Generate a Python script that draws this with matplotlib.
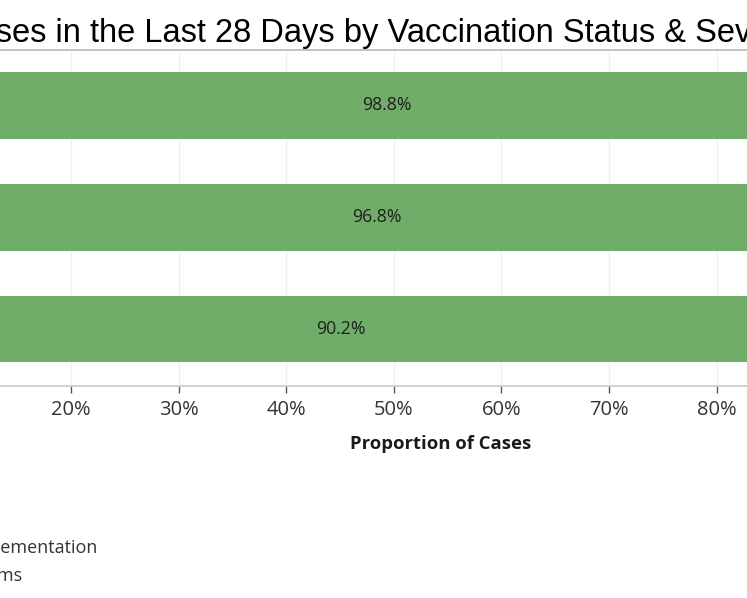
import matplotlib
matplotlib.use("Agg")
import matplotlib.pyplot as plt
from matplotlib.lines import Line2D
from matplotlib.ticker import FuncFormatter

# ---- data ----
groups = ["Group 1", "Group 2", "Group 3"]
share_pct = [98.8, 96.8, 90.2]
tick_values = [0, 10, 20, 30, 40, 50, 60, 70, 80, 90, 100]
title_text = "Proportion of Cases in the Last 28 Days by Vaccination Status & Severity"
title_prefix = "Proportion of Ca"
legend_items = ["Implementation", "Symptoms"]
x_label = "Proportion of Cases"

W, H = 747, 598
fig = plt.figure(figsize=(W / 100, H / 100), dpi=100)
fig.patch.set_facecolor("white")

ui_font = "Open Sans"
green = "#70AD68"

# axes placed in pixel terms (chart is a crop of a wider view)
px_per_pct = 10.76
x0_px = 71 - 20 * px_per_pct
ax_left = x0_px / W
ax_width = 100 * px_per_pct / W
ax_bottom = (H - 386) / H
ax_top = (H - 49.5) / H
ax = fig.add_axes([ax_left, ax_bottom, ax_width, ax_top - ax_bottom])

ypos = list(range(len(groups)))
ax.barh(ypos, share_pct, height=0.597, color=green, zorder=2)
for y, v in zip(ypos, share_pct):
    ax.text(v / 2, y, f"{v:.1f}%", ha="center", va="center",
            fontsize=12.7, color="#1f1f1f", family=ui_font, zorder=3)

ax.set_xlim(0, 100)
ax.set_ylim(2.51, -0.5)
ax.set_xticks(tick_values)
ax.xaxis.set_major_formatter(FuncFormatter(lambda v, p: f"{v:.0f}%"))
ax.set_yticks([])
for lbl in ax.get_xticklabels():
    lbl.set_family(ui_font)
ax.tick_params(axis="x", length=5, width=1, color="#555555",
               labelsize=14.5, labelcolor="#333333", pad=5)
ax.grid(axis="x", color="#f0f0f0", linewidth=1, zorder=0)
for s in ["top", "right", "left"]:
    ax.spines[s].set_visible(False)
ax.spines["bottom"].set_color("#c8c8c8")
ax.spines["bottom"].set_linewidth(1.2)

# x-axis title
fig.text(441 / W, 1 - 444 / H, x_label, ha="center", va="center",
         fontsize=13.3, fontweight="bold", color="#1a1a1a", family=ui_font)

# title, positioned so that the visible part starts where the crop begins
title_size = 23.5
fig.canvas.draw()
renderer = fig.canvas.get_renderer()
tmp = fig.text(0, 0, title_prefix, fontsize=title_size, family="Liberation Sans")
pre_w = tmp.get_window_extent(renderer).width
tmp.remove()
fig.text((-4 - pre_w) / W, 1 - 42 / H, title_text, ha="left", va="baseline",
         fontsize=title_size, color="#000000", family="Liberation Sans")
fig.add_artist(Line2D([0, 1], [1 - 49.5 / H] * 2, color="#b8b8b8",
                      linewidth=1.2, transform=fig.transFigure))

# legend entries (cut off by the crop)
fig.text(98 / W, 1 - 548 / H, legend_items[0], ha="right", va="center",
         fontsize=13, color="#333333", family=ui_font)
fig.text(22 / W, 1 - 576 / H, legend_items[1], ha="right", va="center",
         fontsize=13, color="#333333", family=ui_font)

# hide tick labels lying wholly outside the visible crop
fig.canvas.draw()
for lbl in ax.get_xticklabels():
    bb = lbl.get_window_extent(renderer)
    if bb.x0 < 0 or bb.x1 > W:
        lbl.set_visible(False)

fig.savefig("out.png", dpi=100, facecolor="white")
